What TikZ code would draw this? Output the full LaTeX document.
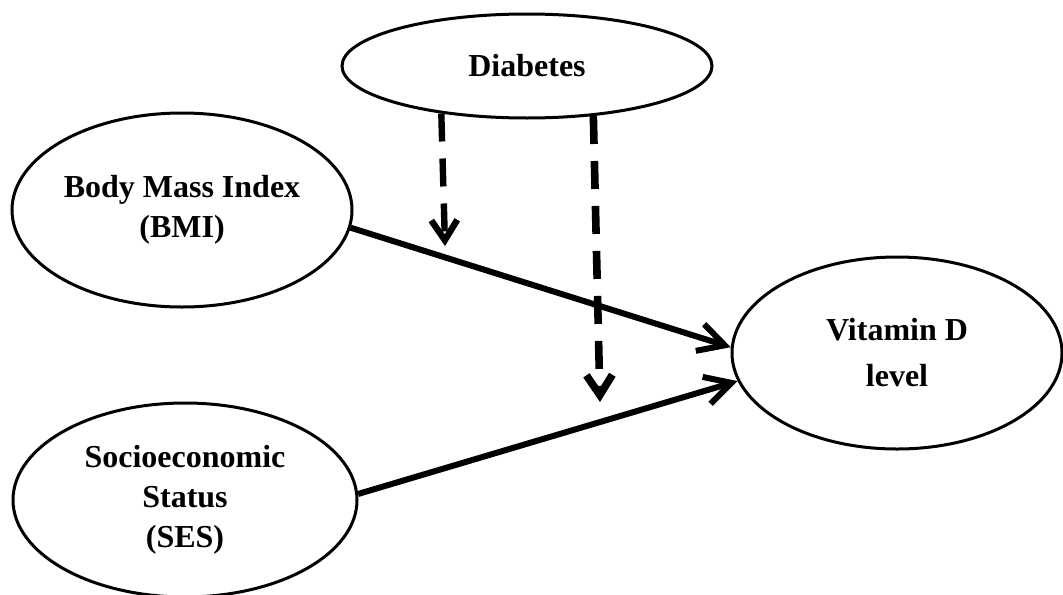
\documentclass[tikz,border=0pt]{standalone}
\usepackage{fontspec}
\setmainfont{Liberation Serif}
\usetikzlibrary{shapes.geometric,arrows.meta}

\begin{document}
\begin{tikzpicture}[x=0.5pt,y=-0.5pt,
        factor/.style={ellipse,draw,line width=1.5pt,inner sep=0pt,align=center,
            font=\bfseries\fontsize{16}{20}\selectfont},
        effect/.style={line width=3pt,-{Straight Barb[length=13pt,width=14pt]}},
        moderation/.style={line width=3.2pt,dash pattern=on 14pt off 8.5pt,
            -{Straight Barb[length=10pt,width=13pt]}}]
                \useasboundingbox (0,0) rectangle (1063,594);
                \node[factor,minimum width=185pt,minimum height=52pt] (diab) at (527,66) {Diabetes};
                \node[factor,minimum width=170pt,minimum height=97pt] (bmi) at (182,210) {Body Mass Index\\(BMI)};
                \node[factor,minimum width=172pt,minimum height=97pt] (ses) at (185,500) {Socioeconomic\\Status\\(SES)};
                \node[factor,minimum width=165pt,minimum height=96pt,font=\bfseries\fontsize{16}{23}\selectfont] (vitd) at (897,353) {Vitamin D\\level};
                \draw[effect] (bmi.-6) -- (vitd.178);
                \draw[effect] (ses.2) -- (vitd.-170);
                \coordinate (onbmi) at (445,246);
                \coordinate (onses) at (600,402);
                \draw[moderation] (diab.-151) -- (onbmi);
                \draw[moderation,line width=3.8pt] (diab.-37) -- (onses);
            \end{tikzpicture}
\end{document}
